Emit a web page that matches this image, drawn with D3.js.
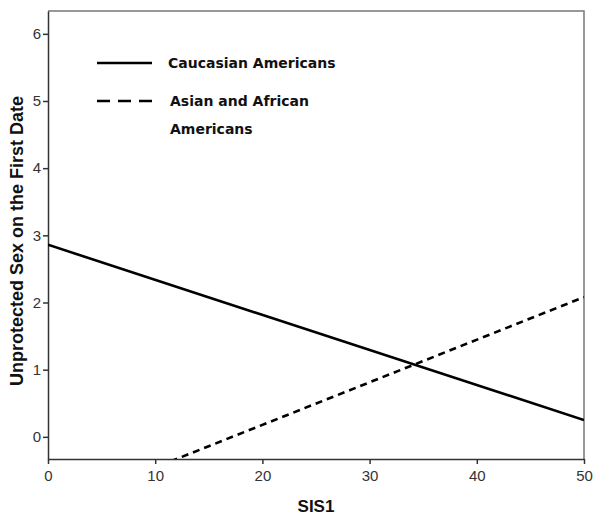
<!DOCTYPE html>
<html><head><meta charset="utf-8">
<script src="https://cdn.jsdelivr.net/npm/d3@7"></script>
<style>body{margin:0;background:#fff}svg{display:block}</style>
</head><body><svg id="c" width="600" height="523"></svg>
<script>
const xTicks = [0, 10, 20, 30, 40, 50];
const yTicks = [0, 1, 2, 3, 4, 5, 6];
const seriesNames = ["Caucasian Americans", "Asian and African Americans"];
const sis1 = [0, 50];
const caucasian = [2.86, 0.25];
const asianAfrican = [-1.09, 2.08];
const xDomain = [0, 50];
const yDomain = [-0.33, 6.34];

const svg = d3.select("#c");
const L = 48, R = 584, T = 11, B = 459;
const x = d3.scaleLinear().domain(xDomain).range([L, R]);
const y = d3.scaleLinear().domain(yDomain).range([B, T]);

svg.append("defs").append("clipPath").attr("id", "clip")
  .append("rect").attr("x", L).attr("y", T).attr("width", R - L).attr("height", B - T);

// frame top/right
svg.append("path").attr("d", `M${L},${T}H${R}V${B}`).attr("fill", "none")
  .attr("stroke", "#777").attr("stroke-width", 1.5);

const xa = svg.append("g").attr("transform", `translate(0,${B})`)
  .call(d3.axisBottom(x).tickValues(xTicks).tickFormat(d3.format("d")).tickSize(5).tickSizeOuter(0));
const ya = svg.append("g").attr("transform", `translate(${L},0)`)
  .call(d3.axisLeft(y).tickValues(yTicks).tickFormat(d3.format("d")).tickSize(5).tickSizeOuter(0));
[xa, ya].forEach(a => {
  a.select(".domain").attr("stroke", "#333").attr("stroke-width", 1.5);
  a.selectAll(".tick line").attr("stroke", "#333").attr("stroke-width", 1.5);
  a.selectAll(".tick text").attr("fill", "#333").style("font-family", "Liberation Sans, Arial, sans-serif").style("font-size", "15px");
});
xa.selectAll(".tick text").attr("dy", "0.95em");
ya.selectAll(".tick text").attr("x", -7);

const line = d3.line().x(d => x(d[0])).y(d => y(d[1]));
const g = svg.append("g").attr("clip-path", "url(#clip)");
g.append("path").datum(sis1.map((v, i) => [v, caucasian[i]])).attr("d", line)
  .attr("fill", "none").attr("stroke", "#000").attr("stroke-width", 2.6);
g.append("path").datum(sis1.map((v, i) => [v, asianAfrican[i]])).attr("d", line)
  .attr("fill", "none").attr("stroke", "#000").attr("stroke-width", 2.6).attr("stroke-dasharray", "7,5");

// axis titles
svg.append("text").attr("x", 316).attr("y", 512).attr("text-anchor", "middle")
  .style("font-family", "Liberation Sans, Arial, sans-serif").style("font-weight", "bold").style("font-size", "17px")
  .attr("fill", "#111").text("SIS1");
svg.append("text").attr("transform", "translate(23,241) rotate(-90)").attr("text-anchor", "middle")
  .style("font-family", "Liberation Sans, Arial, sans-serif").style("font-weight", "bold").style("font-size", "18px")
  .attr("fill", "#111").text("Unprotected Sex on the First Date");

// legend
const lf = "DejaVu Sans, Verdana, sans-serif";
const leg = svg.append("g");
leg.append("line").attr("x1", 97).attr("x2", 152).attr("y1", 63).attr("y2", 63)
  .attr("stroke", "#000").attr("stroke-width", 2.6);
leg.append("line").attr("x1", 97).attr("x2", 152).attr("y1", 101).attr("y2", 101)
  .attr("stroke", "#000").attr("stroke-width", 2.6).attr("stroke-dasharray", "13,8");
leg.append("text").attr("x", 168).attr("y", 68).style("font-family", lf).style("font-weight", "bold")
  .style("font-size", "14px").attr("fill", "#111").text(seriesNames[0]);
const t2 = leg.append("text").style("font-family", lf).style("font-weight", "bold")
  .style("font-size", "14px").attr("fill", "#111");
t2.append("tspan").attr("x", 170).attr("y", 106).text("Asian and African");
t2.append("tspan").attr("x", 170).attr("y", 134).text("Americans");
</script></body></html>
